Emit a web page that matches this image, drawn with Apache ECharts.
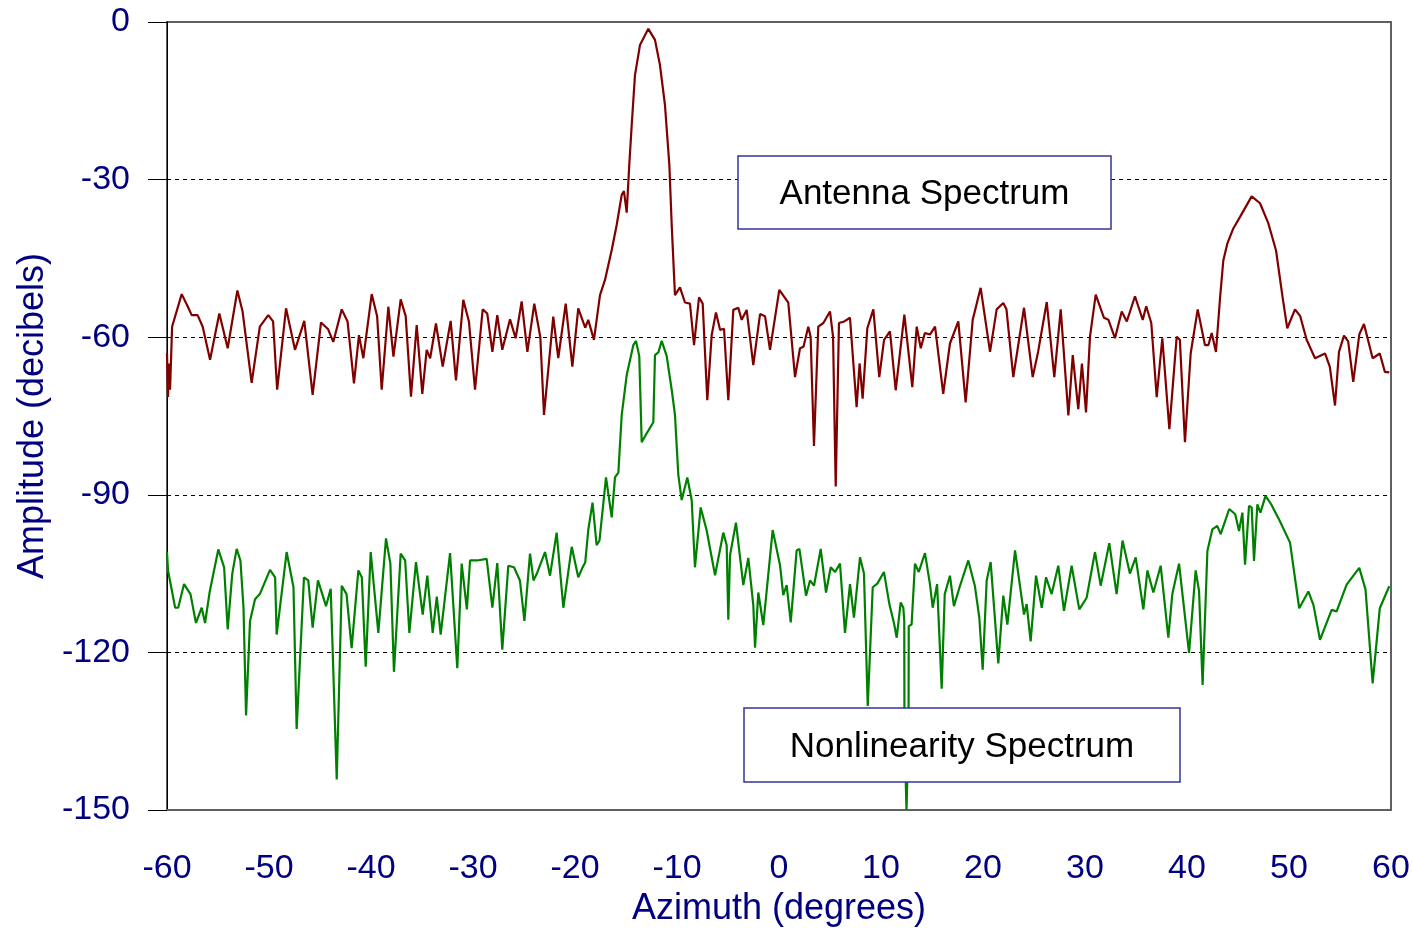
<!DOCTYPE html>
<html>
<head>
<meta charset="utf-8">
<title>Antenna / Nonlinearity Spectrum</title>
<script src="https://cdn.jsdelivr.net/npm/echarts@6/dist/echarts.min.js"></script>
<style>
    html, body { margin: 0; padding: 0; background: #fff; }
    .box { width: 1412px; height: 930px; }
</style>
</head>
<body>
<div class="box"></div>
<script>
// 横轴 / 纵轴刻度
var azimuthTicks = [-60, -50, -40, -30, -20, -10, 0, 10, 20, 30, 40, 50, 60]
var amplitudeTicks = [0, -30, -60, -90, -120, -150]

// Antenna Spectrum  [方位角, dB]
var antennaSpectrum = [
    [-60.0, -63], [-59.9, -71.4], [-59.8, -65], [-59.7, -70], [-59.5, -58], [-58.56, -51.8], [-58.0, -54],
    [-57.58, -55.8], [-57.0, -55.8], [-56.5, -58], [-55.78, -64.3], [-54.87, -55.5], [-54.05, -62.1],
    [-53.1, -51.1], [-52.6, -55], [-51.7, -68.7], [-50.9, -58], [-50.07, -55.8], [-49.6, -57], [-49.2, -70],
    [-48.33, -54.5], [-47.45, -62.4], [-46.54, -56.9], [-45.72, -71], [-44.9, -57.2], [-44.2, -58.5],
    [-43.7, -60.9], [-42.87, -54.7], [-42.3, -57], [-41.67, -68.8], [-41.18, -59.6], [-40.75, -64],
    [-39.93, -51.8], [-39.4, -56], [-38.95, -70], [-38.3, -54.2], [-37.8, -63.7], [-37.09, -52.8],
    [-36.6, -56], [-36.08, -71.3], [-35.52, -57.7], [-34.97, -70.8], [-34.54, -62.4], [-34.2, -64],
    [-33.63, -57.4], [-32.97, -65.6], [-32.19, -56.9], [-31.67, -68.2], [-30.95, -52.9], [-30.4, -57],
    [-29.8, -70], [-29.05, -54.7], [-28.6, -55.5], [-28.1, -62.8], [-27.62, -55.8], [-27.13, -62.4],
    [-26.37, -56.6], [-25.82, -60.2], [-25.23, -53.2], [-24.67, -62.8], [-23.99, -53.6], [-23.4, -60],
    [-23.04, -74.8], [-22.13, -56.1], [-21.64, -64], [-20.91, -53.6], [-20.26, -65.6], [-19.68, -54.5],
    [-19.0, -58.2], [-18.7, -56.7], [-18.14, -60.5], [-17.55, -52], [-17.06, -49.1], [-16.4, -43.4],
    [-15.91, -38.6], [-15.42, -32.9], [-15.2, -32.2], [-14.93, -36.3], [-14.68, -27.2], [-14.44, -19.6],
    [-14.12, -10.1], [-13.63, -4.4], [-12.81, -1.3], [-12.16, -3.4], [-11.67, -8.2], [-11.18, -15.8],
    [-10.75, -27.2], [-10.52, -38.6], [-10.2, -52], [-9.71, -50.5], [-9.22, -53.4], [-8.73, -53.6],
    [-8.33, -61.5], [-7.84, -52.4], [-7.48, -53.6], [-7.03, -72], [-6.6, -59.6], [-6.18, -55.3],
    [-5.78, -58.6], [-5.39, -58.4], [-4.97, -72], [-4.48, -54.8], [-3.99, -54.4], [-3.66, -56.7],
    [-3.17, -54.8], [-2.52, -65.3], [-1.86, -55.6], [-1.37, -56], [-0.88, -62.4], [0.03, -51],
    [0.91, -53.4], [1.57, -67.6], [2.06, -62.1], [2.4, -61.8], [2.87, -58], [3.1, -59.9], [3.43, -80.7],
    [3.85, -58], [4.35, -57.3], [5.0, -55.1], [5.3, -59.9], [5.56, -88.4], [5.88, -57.3], [6.4, -57],
    [6.96, -56.3], [7.61, -73.3], [7.9, -65], [8.2, -71.7], [8.66, -58.3], [9.25, -54.7], [9.83, -67.6],
    [10.3, -60.5], [10.88, -58.9], [11.44, -70.1], [12.29, -55.7], [13.07, -69.5], [13.5, -58],
    [13.9, -62.1], [14.3, -59.2], [14.8, -59.5], [15.3, -58], [16.1, -70.8], [16.76, -61.2], [17.58, -57],
    [18.3, -72.4], [18.99, -56.7], [19.77, -50.6], [20.69, -62.8], [21.34, -54.7], [21.99, -53.5],
    [22.3, -54.7], [22.97, -67.6], [24.02, -54.4], [24.87, -67.6], [25.4, -62.8], [26.25, -53.3],
    [26.99, -67.6], [27.62, -54.7], [28.37, -74.9], [28.8, -63.4], [29.34, -73.7], [29.7, -65],
    [30.1, -74.3], [30.49, -59.9], [31.05, -51.9], [31.86, -56.3], [32.3, -56.7], [32.94, -60.2],
    [33.6, -55.1], [34.1, -57], [34.9, -52.2], [35.66, -56.7], [36.0, -54.1], [36.5, -57.3], [37.03, -71.4],
    [37.58, -60.2], [38.27, -77.5], [38.99, -59.9], [39.3, -60.5], [39.8, -80], [40.36, -63.1],
    [41.05, -54.7], [41.76, -61.5], [42.1, -61.5], [42.42, -59.2], [42.84, -62.8], [43.24, -52.5],
    [43.56, -45.4], [43.95, -42.2], [44.54, -39.3], [45.2, -37.1], [46.34, -33.2], [47.16, -34.5],
    [47.97, -38.3], [48.73, -43.5], [49.38, -52.5], [49.83, -58.3], [50.59, -54.7], [51.1, -56],
    [51.73, -60.5], [52.55, -64], [53.53, -63.1], [54.0, -65.6], [54.51, -73], [54.9, -62.8],
    [55.39, -59.7], [55.8, -60.8], [56.3, -68.5], [56.89, -59.5], [57.35, -57.5], [58.2, -64],
    [58.9, -63.1], [59.4, -66.6], [59.83, -66.7]
]

// Nonlinearity Spectrum  [方位角, dB]
var nonlinearitySpectrum = [
    [-60, -100.9], [-59.9, -104.4], [-59.2, -111.5], [-58.9, -111.5], [-58.33, -107], [-57.7, -108.9],
    [-57.16, -114.4], [-56.6, -111.5], [-56.27, -114.4], [-55.8, -108.3], [-54.97, -100.4], [-54.4, -103.8],
    [-54.05, -115.6], [-53.6, -105], [-53.17, -100.3], [-52.8, -102.5], [-52.5, -111.5], [-52.25, -132],
    [-51.86, -114], [-51.37, -109.9], [-50.9, -108.9], [-49.9, -104.3], [-49.4, -105.7], [-49.25, -116.6],
    [-48.27, -100.9], [-47.6, -107.6], [-47.29, -134.6], [-46.57, -105.7], [-46.15, -106.3], [-45.72, -115.3],
    [-45.2, -106.3], [-44.41, -111.2], [-43.95, -107.9], [-43.36, -144.2], [-42.87, -107.3], [-42.4, -108.9],
    [-41.9, -119.2], [-41.24, -104.4], [-40.9, -105.7], [-40.52, -122.7], [-40.03, -100.9], [-39.28, -116.3],
    [-38.53, -98.3], [-38.1, -103.1], [-37.75, -123.7], [-37.09, -101.2], [-36.65, -102.5], [-36.24, -116.3],
    [-35.59, -102.8], [-34.93, -112.8], [-34.48, -105.4], [-33.95, -116.3], [-33.55, -109.4], [-33.17, -116.6],
    [-32.25, -101.1], [-31.54, -123], [-31.11, -103.1], [-30.6, -111.8], [-30.29, -102.5], [-29.6, -102.5],
    [-28.66, -102.2], [-28.1, -111.5], [-27.62, -103], [-27.13, -119.5], [-26.54, -103.5], [-25.98, -103.8],
    [-25.4, -106.3], [-24.96, -114], [-24.41, -101.2], [-24.07, -106.3], [-23.74, -105], [-22.94, -100.9],
    [-22.45, -105.4], [-21.8, -97.2], [-21.14, -111.5], [-20.32, -99.9], [-19.68, -105.7], [-19.3, -104],
    [-19.0, -102.9], [-18.7, -96.7], [-18.28, -91.5], [-17.88, -99.6], [-17.6, -98.7], [-16.96, -86.7],
    [-16.4, -94.3], [-16.08, -86.7], [-15.75, -85.8], [-15.42, -74.8], [-14.93, -67.2], [-14.28, -61.5],
    [-14.02, -60.7], [-13.7, -63.6], [-13.46, -80], [-12.97, -78.3], [-12.32, -76.2], [-12.16, -63.4],
    [-11.83, -62.9], [-11.5, -60.7], [-11.01, -63.6], [-10.52, -70], [-10.2, -74.8], [-9.87, -86.2],
    [-9.54, -91], [-8.99, -86.7], [-8.56, -91], [-8.24, -103.8], [-7.68, -92.4], [-7.1, -96.7],
    [-6.27, -105.3], [-5.46, -97.2], [-5.13, -99.6], [-4.97, -113.8], [-4.8, -101.5], [-4.22, -95.3],
    [-3.5, -107.2], [-3.01, -102], [-2.52, -111], [-2.35, -119.1], [-2.03, -108.6], [-1.54, -114.8],
    [-0.62, -96.7], [0.1, -103.4], [0.42, -109.1], [0.75, -107.2], [1.15, -114.3], [1.73, -100.6],
    [2.0, -100.3], [2.65, -109.2], [3.04, -106.3], [3.43, -107.3], [4.09, -100.3], [4.61, -108.6],
    [5.07, -103.8], [5.5, -104.7], [5.98, -103.1], [6.47, -116.3], [6.96, -107], [7.35, -113.4],
    [7.94, -101.9], [8.33, -105], [8.7, -130.2], [9.19, -107.6], [9.64, -106.9], [10.29, -104.7],
    [10.82, -110.8], [11.27, -114.4], [11.54, -117.2], [11.93, -110.5], [12.19, -111.5], [12.28, -114],
    [12.3, -135], [12.5, -150], [12.7, -135], [12.72, -115], [13.0, -114.7], [13.33, -103.1],
    [13.7, -104.7], [14.31, -101.1], [14.8, -107], [15.07, -111.5], [15.5, -107], [15.95, -126.9],
    [16.25, -108.9], [16.76, -105.4], [17.15, -111.2], [17.7, -107.6], [18.56, -102.5], [19.2, -107.3],
    [19.64, -113.4], [19.97, -123.3], [20.36, -106.3], [20.75, -102.8], [21.5, -122.1], [21.99, -109.2],
    [22.39, -114.7], [23.14, -100.6], [24.02, -112.8], [24.28, -110.8], [24.67, -117.9], [25.2, -105.4],
    [25.76, -111.5], [26.18, -105.7], [26.73, -108.9], [27.38, -103.5], [27.94, -112.1], [28.69, -103.5],
    [29.44, -111.8], [30.16, -109.6], [30.98, -100.9], [31.54, -107.3], [32.38, -99.2], [33.1, -108.9],
    [33.68, -98.7], [34.4, -105], [34.97, -101.9], [35.72, -111.8], [36.12, -104.4], [36.7, -108.6],
    [37.42, -103.5], [38.17, -117.2], [38.56, -108.9], [39.22, -103.1], [40.2, -120.1], [40.85, -104.4],
    [41.18, -108.3], [41.53, -126.2], [42.0, -100.7], [42.48, -96.6], [42.97, -95.9], [43.3, -97.5],
    [44.14, -92.7], [44.73, -93.7], [45.1, -96.9], [45.43, -93.4], [45.69, -103.3], [46.08, -92.1],
    [46.34, -92.4], [46.57, -102.6], [46.9, -91.8], [47.2, -93.4], [47.7, -90.2], [48.25, -91.8],
    [49.1, -95], [50.1, -99.1], [51.0, -111.6], [51.9, -108.4], [52.4, -111], [53.04, -117.6],
    [54.18, -111.9], [54.67, -112.2], [55.65, -107.1], [56.89, -103.9], [57.5, -108], [58.2, -125.9],
    [58.9, -111.6], [59.83, -107.4]
]

var navy = '#000080'
var fontName = 'Liberation Sans, Arial, sans-serif'

var box = document.getElementsByClassName("box")[0]
var myChart = echarts.init(box, null, { renderer: 'canvas' })

var option = {
    animation: false,
    backgroundColor: '#fff',
    grid: {
        left: 167,
        right: 21,
        top: 22,
        bottom: 120,
        outerBoundsMode: 'none',
        containLabel: false,
        show: true,
        borderColor: '#606060',
        borderWidth: 2
    },
    xAxis: {
        type: 'value',
        min: azimuthTicks[0],
        max: azimuthTicks[azimuthTicks.length - 1],
        interval: 10,
        name: 'Azimuth (degrees)',
        nameLocation: 'middle',
        nameGap: 81,
        nameTextStyle: { color: navy, fontSize: 36, fontFamily: fontName },
        axisLine: { onZero: false, lineStyle: { color: '#606060', width: 2 } },
        axisTick: { show: false },
        splitLine: { show: false },
        axisLabel: { color: navy, fontSize: 34, fontFamily: fontName, margin: 42 }
    },
    yAxis: {
        type: 'value',
        min: amplitudeTicks[amplitudeTicks.length - 1],
        max: amplitudeTicks[0],
        interval: 30,
        name: 'Amplitude (decibels)',
        nameLocation: 'middle',
        nameGap: 114,
        nameTextStyle: { color: navy, fontSize: 36, fontFamily: fontName },
        axisLine: { show: true, onZero: false, lineStyle: { color: '#000', width: 1 } },
        axisTick: { show: true, length: 19, lineStyle: { color: '#000' } },
        axisLabel: { color: navy, fontSize: 34, fontFamily: fontName, margin: 37 },
        splitLine: {
            show: true,
            showMinLine: false,
            showMaxLine: false,
            lineStyle: { color: '#000', type: [4, 4], width: 1 }
        }
    },
    // 两个标注框（盖在曲线上面）
    graphic: [{
        type: 'rect',
        z: 100,
        shape: { x: 738, y: 156, width: 373, height: 73 },
        style: { fill: '#fff', stroke: '#333399', lineWidth: 1.5 }
    }, {
        type: 'text',
        z: 101,
        x: 924.5, y: 194,
        style: {
            text: 'Antenna Spectrum', fill: '#000', font: '35px ' + fontName,
            textAlign: 'center', textVerticalAlign: 'middle'
        }
    }, {
        type: 'rect',
        z: 100,
        shape: { x: 744, y: 708, width: 436, height: 74 },
        style: { fill: '#fff', stroke: '#333399', lineWidth: 1.5 }
    }, {
        type: 'text',
        z: 101,
        x: 962, y: 747,
        style: {
            text: 'Nonlinearity Spectrum', fill: '#000', font: '35px ' + fontName,
            textAlign: 'center', textVerticalAlign: 'middle'
        }
    }],
    series: [{
        name: 'Antenna Spectrum',
        type: 'line',
        data: antennaSpectrum,
        showSymbol: false,
        lineStyle: { color: '#800000', width: 2.2 },
        itemStyle: { color: '#800000' }
    }, {
        name: 'Nonlinearity Spectrum',
        type: 'line',
        data: nonlinearitySpectrum,
        showSymbol: false,
        lineStyle: { color: '#008000', width: 2.2 },
        itemStyle: { color: '#008000' }
    }]
}

myChart.setOption(option)
</script>
</body>
</html>
